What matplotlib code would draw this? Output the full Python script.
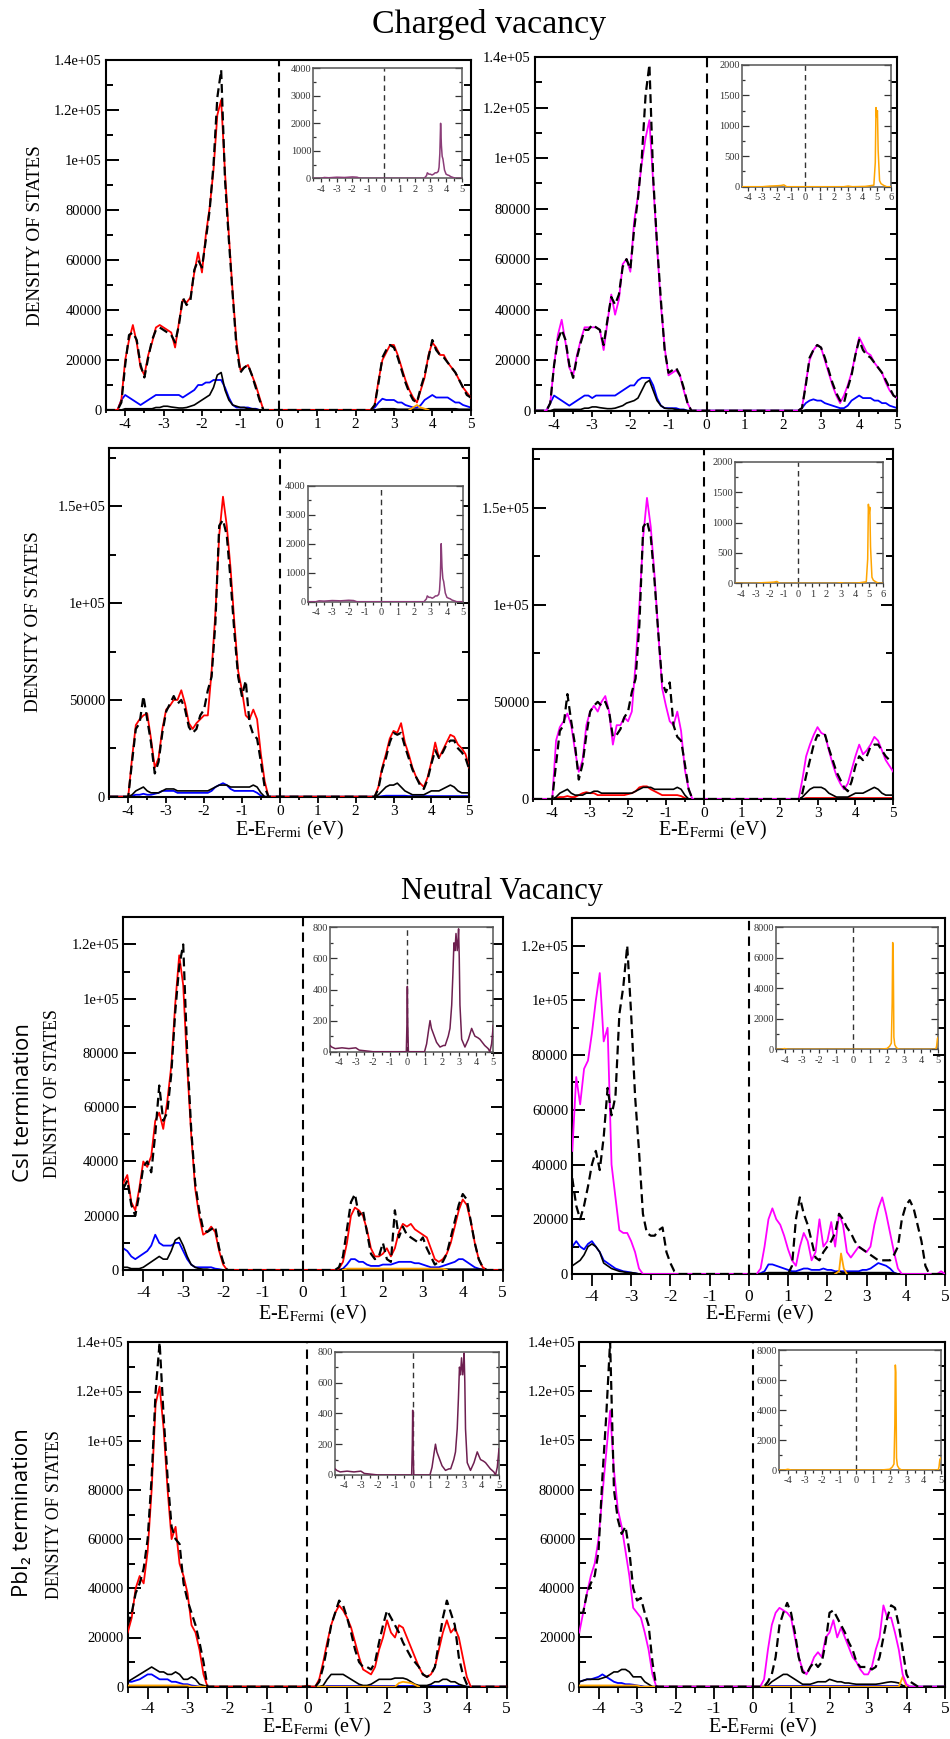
import numpy as np
import matplotlib
matplotlib.use("Agg")
import matplotlib.pyplot as plt
from matplotlib.ticker import MultipleLocator

plt.rcParams['font.family'] = ['Liberation Serif', 'DejaVu Serif']
plt.rcParams['mathtext.fontset'] = 'stix'
plt.rcParams['axes.unicode_minus'] = False

# ---------------- data (DOS in units of 1000 states) ----------------
E_GRID = [-4.5,-4.4,-4.3,-4.2,-4.1,-4.0,-3.9,-3.8,-3.7,-3.6,
          -3.5,-3.4,-3.3,-3.2,-3.1,-3.0,-2.9,-2.8,-2.7,-2.6,
          -2.5,-2.4,-2.3,-2.2,-2.1,-2.0,-1.9,-1.8,-1.7,-1.6,
          -1.5,-1.4,-1.3,-1.2,-1.1,-1.0,-0.9,-0.8,-0.7,-0.6,
          -0.5,-0.4,-0.3,-0.2,-0.1,0.0,0.1,0.2,0.3,0.4,
          0.5,0.6,0.7,0.8,0.9,1.0,1.1,1.2,1.3,1.4,
          1.5,1.6,1.7,1.8,1.9,2.0,2.1,2.2,2.3,2.4,
          2.5,2.6,2.7,2.8,2.9,3.0,3.1,3.2,3.3,3.4,
          3.5,3.6,3.7,3.8,3.9,4.0,4.1,4.2,4.3,4.4,
          4.5,4.6,4.7,4.8,4.9,5.0]

# Panel 1: charged vacancy, top-left (red)
P1_RED = [0,0,0,0,4,20,28,34,27,17, 14,22,27,33,34,33,32,31,25,35,
          44,43,45,55,63,55,70,81,96,118, 124,95,70,47,27,16,17,18,14,10,
          5,0,0,0,0,0,0,0,0,0, 0,0,0,0,0,0,0,0,0,0, 0,0,0,0,0,0,0,0,0,0,
          2,12,20,23,26,26,22,17,12,8, 5,3,8,13,22,27,25,22,22,19, 17,15,12,9,7,5]
P1_DASH = [0,0,0,0,3,18,30,31,28,18, 13,21,28,32,33,32,31,30,27,34,
           45,42,44,56,60,57,68,80,98,125, 136,92,68,46,25,15,17,18,14,9,
           4,0,0,0,0,0,0,0,0,0, 0,0,0,0,0,0,0,0,0,0, 0,0,0,0,0,0,0,0,0,0,
           2,11,21,24,26,25,21,16,11,7, 4,3,9,14,21,28,24,22,21,19, 17,15,12,9,6,5]
P1_BLUE = [0,0,0,0,4,6,5,4,3,2, 3,4,5,6,6,6,6,6,6,6,
           5,6,7,8,10,10,11,11,12,12, 12,9,5,2,1,1,1,1,0.5,0.5,
           0,0,0,0,0,0,0,0,0,0, 0,0,0,0,0,0,0,0,0,0, 0,0,0,0,0,0,0,0,0,0,
           1,3,4.5,4,4,4,3,3,2,1.5, 1,1,2,4,5,6,5,5,5,5, 4,3,3,2,1.5,1]
P1_BLACK = [0,0,0,0,0,0.5,0.5,0.5,0.5,0.5, 0.5,0.5,0.5,1,1,1.5,1.5,1.2,1,0.8,
            0.8,1,1.5,2,3,4,5,6,9,14, 15,8,4,2,1.5,1,1,0.5,0.5,0.3,
            0,0,0,0,0,0,0,0,0,0, 0,0,0,0,0,0,0,0,0,0, 0,0,0,0,0,0,0,0,0,0,
            0,0.3,0.5,0.5,0.5,0.5,0.3,0.3,0.3,0.3, 0.3,0.3,0.3,0.3,0.5,0.5,0.5,0.5,0.5,0.5,
            0.5,0.5,0.3,0.3,0.3,0.3]
P1_ORANGE_E = [3.4,3.5,3.6,3.7,3.8,3.9]
P1_ORANGE = [0,1,2,1,0.5,0]

# Panel 2: charged vacancy, top-right (magenta)
P2_MAG = [0,0,0,0,3,18,30,36,27,17, 14,22,28,33,33,33,33,32,24,35,
          46,38,44,58,60,55,75,85,98,108, 115,90,65,42,25,14,15,16,14,8,
          3,0,0,0,0,0,0,0,0,0, 0,0,0,0,0,0,0,0,0,0, 0,0,0,0,0,0,0,0,0,0,
          1,11,20,24,26,25,20,15,10,6, 3,6,10,15,22,29,26,23,22,19, 17,15,11,8,6,5]
P2_DASH = [0,0,0,0,3,18,28,32,28,18, 13,21,27,32,32,34,33,32,26,36,
           45,42,46,57,60,56,72,84,100,125, 137,92,66,44,24,15,16,17,14,9,
           3,0,0,0,0,0,0,0,0,0, 0,0,0,0,0,0,0,0,0,0, 0,0,0,0,0,0,0,0,0,0,
           1,10,21,24,26,25,21,16,11,7, 4,3,9,14,22,28,24,22,21,19, 17,15,12,9,6,5]
P2_BLUE = [0,0,0,0,3,6,5,4,3,2, 3,4,5,6,6,5,6,6,6,6,
           6,6,7,8,9,10,10,12,13,13, 13,10,5,2,1,1,1,1,0.5,0.5,
           0,0,0,0,0,0,0,0,0,0, 0,0,0,0,0,0,0,0,0,0, 0,0,0,0,0,0,0,0,0,0,
           1,3,4,4.5,4,4,3,2.5,2,1.5, 1,1,2,4,5,6,5,5,5,4, 4,3,3,2,1.5,1]
P2_BLACK = [0,0,0,0,0,0.5,0.5,0.5,0.5,0.5, 0.5,0.5,0.5,1,1,1.5,1.5,1.2,1,0.8,
            0.8,1,1.5,2,3,3.5,4,5,8,11, 12,8,4,2,1,0.8,0.8,0.5,0.3,0.3,
            0,0,0,0,0,0,0,0,0,0, 0,0,0,0,0,0,0,0,0,0, 0,0,0,0,0,0,0,0,0,0,
            0,0.3,0.3,0.3,0.3,0.3,0.3,0.3,0.3,0.3, 0.3,0.3,0.3,0.3,0.3,0.3,0.3,0.3,0.3,0.3,
            0.3,0.3,0.3,0.3,0.3,0.3]

# Panel 3: charged vacancy, second row left (red)
P3_RED = [0,0,0,0,0,0,20,37,40,42, 43,30,15,20,35,45,47,50,50,55,
          48,38,35,38,40,42,42,65,95,135, 155,140,118,90,65,55,42,40,45,40,
          22,8,0,0,0,0,0,0,0,0, 0,0,0,0,0,0,0,0,0,0, 0,0,0,0,0,0,0,0,0,0,
          0,5,15,22,30,34,33,38,28,22, 15,10,7,5,10,18,28,20,24,28, 32,31,27,25,22,15]
P3_DASH = [0,0,0,0,0,0,18,35,38,52, 40,28,12,18,33,44,48,52,48,50,
           45,36,33,35,42,45,55,62,90,140, 143,135,112,85,62,52,60,38,32,30,
           18,5,0,0,0,0,0,0,0,0, 0,0,0,0,0,0,0,0,0,0, 0,0,0,0,0,0,0,0,0,0,
           0,4,14,20,28,33,32,33,26,20, 14,10,6,4,9,17,24,20,23,27, 29,29,25,23,20,14]
P3_BLACK = [0,0,0,0,0,0,1,3,4,5, 3,2,2,2,3,4,4,4,3,3,
            3,3,3,3,3,3,3,4,5,6, 6,6,5,5,5,5,5,5,6,5,
            2,0,0,0,0,0,0,0,0,0, 0,0,0,0,0,0,0,0,0,0, 0,0,0,0,0,0,0,0,0,0,
            0,1,3,5,6,6,7,5,3,2, 1,1,1,1,2,3,3,3,4,5, 6,5,3,2,2,2]
P3_BLUE = [0,0,0,0,0,0,0.5,1,1,1.5, 1,1,1.5,2,3,3,3,3,2,2,
           2,2,2,2,2,2,2,3,5,6, 7,6,4,3,3,3,3,3,3,2,
           0.5,0,0,0,0,0,0,0,0,0, 0,0,0,0,0,0,0,0,0,0, 0,0,0,0,0,0,0,0,0,0,
           0,0,0.3,0.5,0.5,0.5,0.5,0.5,0.5,0.3, 0.3,0.3,0.3,0.3,0.3,0.3,0.3,0.3,0.3,0.3,
           0.3,0.3,0.3,0.3,0.3,0.3]

# Panel 4: charged vacancy, second row right (magenta)
P4_MAG = [0,0,0,0,0,0,30,37,40,44, 38,25,14,20,38,45,48,45,50,53,
          45,28,38,38,42,40,45,70,100,135, 155,140,115,85,57,48,40,38,45,35,
          15,5,0,0,0,0,0,0,0,0, 0,0,0,0,0,0,0,0,0,0, 0,0,0,0,0,0,0,0,0,0,
          0,10,22,28,33,37,34,33,25,18, 12,8,5,8,15,22,28,23,25,28, 32,30,25,20,17,14]
P4_DASH = [0,0,0,0,0,0,18,35,38,54, 40,28,10,18,33,45,48,50,48,50,
           45,32,33,36,42,45,55,62,90,140, 143,135,112,85,60,55,60,38,32,30,
           18,5,0,0,0,0,0,0,0,0, 0,0,0,0,0,0,0,0,0,0, 0,0,0,0,0,0,0,0,0,0,
           0,3,12,20,28,33,32,33,26,20, 14,10,6,4,9,17,22,20,22,27, 28,28,25,22,20,19]
P4_BLACK = [0,0,0,0,0,0,1,3,4,5, 3,2,2,2,3,3,4,4,3,3,
            3,3,3,3,3,3,3,4,5,6, 6,6,5,5,5,5,5,5,6,5,
            2,0,0,0,0,0,0,0,0,0, 0,0,0,0,0,0,0,0,0,0, 0,0,0,0,0,0,0,0,0,0,
            0,1,3,5,6,6,6,5,3,2, 1,1,1,1,2,3,3,3,4,5, 6,5,3,2,2,2]
P4_RED = [0,0,0,0,0,0,0.5,1,1,1.5, 1,1,2,3,3.5,3,3,2,2,2,
          2,2,2,2,2,2.5,3,4,6,6.5, 6.5,5,4,3,2,2,2,2,2,1.5,
          0.5,0,0,0,0,0,0,0,0,0, 0,0,0,0,0,0,0,0,0,0, 0,0,0,0,0,0,0,0,0,0,
          0,0,0.5,0.5,0.5,0.5,0.5,0.5,0.5,0.5, 0.5,0.5,0.5,0.5,0.5,0.5,0.5,0.5,0.5,0.5,
          0.5,0.5,0.5,0.5,0.5,0.5]

# Panel 5: neutral vacancy, CsI termination (red)
P5_RED = [32,35,25,22,30,40,38,42,55,58, 52,62,75,98,116,105,75,50,30,20,
          13,14,16,14,7,2,0,0,0,0, 0,0,0,0,0,0,0,0,0,0, 0,0,0,0,0,0,0,0,0,0,
          0,0,0,0,0.5,3,10,20,23,22, 20,15,8,5,5,6,8,5,8,14,
          17,16,17,15,14,13,12,8,4,3, 4,6,10,16,22,26,24,18,10,4, 1,0,0,0,0,0]
P5_DASH = [30,33,24,20,28,38,40,36,50,68, 55,58,72,95,112,120,80,52,32,22,
           15,14,15,16,8,3,0,0,0,0, 0,0,0,0,0,0,0,0,0,0, 0,0,0,0,0,0,0,0,0,0,
           0,0,0,0,1,5,15,25,28,20, 22,14,6,4,5,10,4,3,22,12,
           16,13,12,11,10,12,8,5,2,3, 3,6,12,18,24,28,26,18,10,4, 1,0,0,0,0,0]
P5_BLUE = [8,7,5,4,5,6,7,9,13,10, 9,9,9,10,10,7,4,2,1,1,
           1,1,1,0.5,0.3,0,0,0,0,0, 0,0,0,0,0,0,0,0,0,0, 0,0,0,0,0,0,0,0,0,0,
           0,0,0,0,0,0.5,2,4,4,3, 3,2,1.5,1.5,1.5,2,2,2,2.5,3,
           3,3,3,2.5,2.5,2,1.5,1,1,1, 1.5,2,2.5,3,4,4,3,2,1,0.5, 0,0,0,0,0,0]
P5_BLACK = [1,1,0.5,0.5,0.5,1,2,3,4,5, 4,4,7,11,12,9,5,2,1,0.5,
            0.3,0.3,0,0,0,0,0,0,0,0, 0,0,0,0,0,0,0,0,0,0, 0,0,0,0,0,0,0,0,0,0,
            0,0,0,0,0,0.3,0.3,0.3,0.3,0.3, 0.3,0.3,0.3,0.3,0.3,0.3,0.3,0.3,0.3,0.3,
            0.3,0.3,0.3,0.3,0.3,0.3,0.3,0.3,0.3,0.3, 0.3,0.3,0.3,0.3,0.3,0.3,0.3,0.3,0.3,0.3,
            0.3,0,0,0,0,0]
P5_ORANGE_E = [1.0,1.1,3.5,3.6]
P5_ORANGE = [0,0.5,0.5,0]

# Panel 6: neutral vacancy, CsI termination (magenta)
P6_MAG = [45,72,62,75,78,88,100,110,85,90, 40,28,16,15,15,12,8,2,0,0,
          0,0,0,0,0,0,0,0,0,0, 0,0,0,0,0,0,0,0,0,0, 0,0,0,0,0,0,0,0,2,10,
          20,24,20,18,14,9,5,3,10,15, 12,5,8,20,10,12,19,10,22,18,
          8,6,8,10,9,8,10,18,24,28, 22,15,8,2,0,0,0,0,0,0, 0,0,0,0,1,0]
P6_DASH = [35,25,20,25,32,40,45,38,50,68, 58,65,95,105,120,95,65,45,22,15,
           14,14,16,17,8,4,1,0,0,0, 0,0,0,0,0,0,0,0,0,0, 0,0,0,0,0,0,0,0,0,0,
           0,0,0,0,0,0,3,20,28,22, 18,12,6,5,8,10,12,15,22,20,
           17,15,12,10,9,8,7,6,5,5, 5,5,7,10,20,25,27,24,18,12, 3,0,0,0,0,0]
P6_BLUE = [10,12,10,9,11,12,10,8,5,4, 3,2,1.5,1,0.8,0.5,0.3,0,0,0,
           0,0,0,0,0,0,0,0,0,0, 0,0,0,0,0,0,0,0,0,0, 0,0,0,0,0,0,0,0,0.3,1,
           3.5,3.5,3,2.5,2,1.5,1,1,1.5,2, 2,1.5,1.5,1.5,2,1.5,1.5,1,1,1,
           1,1,1,1,1.5,1.5,2,3,4,3.5, 3,2,0.5,0,0,0,0,0,0,0, 0,0,0,0,0,0]
P6_BLACK = [3,4,5,7,10,11,10,8,4,3, 2,1.5,1,0.8,0.5,0.5,0.3,0,0,0,
            0,0,0,0,0,0,0,0,0,0, 0,0,0,0,0,0,0,0,0,0, 0,0,0,0,0,0,0,0,0,0.3,
            0.5,0.5,0.5,0.5,0.5,0.5,0.5,0.5,0.5,0.5, 0.5,0.5,0.5,0.5,0.5,0.5,0.5,0.5,1,0.5,
            0.5,0.5,0.5,0.5,0.5,0.5,0.5,0.5,0.5,0.5, 0.5,0.5,0.3,0,0,0,0,0,0,0, 0,0,0,0,0,0]
P6_ORANGE_E = [2.2,2.3,2.35,2.42,2.5]
P6_ORANGE = [0,1,7.5,2,0]

# Panel 7: neutral vacancy, PbI2 termination (red)
P7_RED = [22,28,40,45,42,55,80,115,122,105, 80,60,65,50,45,38,25,22,15,5,
          0,0,0,0,0,0,0,0,0,0, 0,0,0,0,0,0,0,0,0,0, 0,0,0,0,0,0.5,0,0,3,10,
          18,25,30,33,31,28,24,18,12,7, 6,5,8,15,20,27,22,20,25,24,
          20,16,12,8,5,4,5,8,15,22, 27,22,24,20,12,4,0,0,0,0, 0,0,0,0,0,0]
P7_DASH = [25,30,38,42,48,60,85,120,140,110, 85,65,60,58,42,35,30,25,18,10,
           0,0,0,0,0,0,0,0,0,0, 0,0,0,0,0,0,0,0,0,0, 0,0,0,0,0,0,0,0,2,8,
           16,25,30,35,33,28,22,15,10,8, 8,7,10,18,25,31,28,25,22,18,
           15,12,10,8,5,4,5,8,18,28, 35,30,25,12,5,1,0,0,0,0, 0,0,0,0,0,0]
P7_BLACK = [2,3,4,5,6,7,8,7,6,6, 5,5,6,5,3,3,4,3,1,0.5,
            0,0,0,0,0,0,0,0,0,0, 0,0,0,0,0,0,0,0,0,0, 0,0,0,0,0,0,0,0,0,0.5,
            3,5,5,5,5,4,3,2,1,0.5, 0.5,1,2,3,3,3,3,3.5,3.5,3.5,
            3,2,1,0.5,0.5,0.5,1,2,2,3, 3,2,2,1,0.5,0,0,0,0,0, 0,0,0,0,0,0]
P7_BLUE = [2,2,2.5,3,4,5,5,4,3,3, 3,2,2,1.5,1,1,0.5,0.3,0,0,
           0,0,0,0,0,0,0,0,0,0, 0,0,0,0,0,0,0,0,0,0, 0,0,0,0,0,0,0,0,0,0,
           0.3,0.3,0.3,0.3,0.3,0.3,0.3,0.3,0.3,0.3, 0.3,0.3,0.3,0.3,0.3,0.3,0.3,0.3,0.3,0.3,
           0.3,0.3,0.3,0.3,0.3,0.3,0.3,0.3,0.3,0.3, 0.3,0.3,0.3,0.3,0.3,0,0,0,0,0, 0,0,0,0,0,0]
P7_ORANGE_E = [-4.5,-3.0,-2.9,2.2,2.3,2.4,2.6,2.8]
P7_ORANGE = [0.5,0.5,0,0,1.5,2,1.5,0]

# Panel 8: neutral vacancy, PbI2 termination (magenta)
P8_MAG = [22,30,38,45,50,60,78,95,112,88, 72,65,55,45,32,30,28,22,15,5,
          0,0,0,0,0,0,0,0,0,0, 0,0,0,0,0,0,0,0,0,0, 0,0,0,0,0,0,0,0,3,15,
          25,30,32,31,30,28,20,12,7,5, 8,12,14,12,20,22,27,20,24,20,
          16,12,10,7,5,5,8,15,20,33, 28,28,22,15,5,1,0,0,0,0, 0,0,0,0,0,0]
P8_DASH = [30,30,38,42,45,55,85,110,140,80, 68,62,65,55,40,35,36,30,25,10,
           0,0,0,0,0,0,0,0,0,0, 0,0,0,0,0,0,0,0,0,0, 0,0,0,0,0,0,0,0,0,2,
           5,12,25,30,34,30,22,12,6,5, 8,10,8,10,18,30,31,28,25,22,
           18,15,10,8,8,8,7,8,12,20, 28,33,32,25,15,5,2,1,0,0, 0,0,0,0,0,0]
P8_BLACK = [2,2.5,3,3,3,3,3.5,4,5,6, 6,7,7,6,4,4,4,2,1,0,
            0,0,0,0,0,0,0,0,0,0, 0,0,0,0,0,0,0,0,0,0, 0,0,0,0,0,0,0,0,0,0.5,
            2,3,4,5,5,4,3,2,1,1, 1,1.5,2,2,2,3,2.5,2,2,1.5,
            1.5,1.2,1,1,1,1,1,1,1.2,1.5, 1.8,2,1.8,1.5,0.5,0,0,0,0,0, 0,0,0,0,0,0]
P8_BLUE = [2,2.5,3,3,3.5,4,5,4,3,2, 1.5,1.5,1,1,0.8,0.5,0.3,0,0,0,
           0,0,0,0,0,0,0,0,0,0, 0,0,0,0,0,0,0,0,0,0, 0,0,0,0,0,0,0,0,0,0,
           0.3,0.3,0.3,0.3,0.3,0.3,0.3,0.3,0.3,0.3, 0.3,0.3,0.3,0.3,0.3,0.3,0.3,0.3,0.3,0.3,
           0.3,0.3,0.3,0.3,0.3,0.3,0.3,0.3,0.3,0.3, 0.3,0.3,0.3,0.3,0,0,0,0,0,0, 0,0,0,0,0,0]
P8_ORANGE_E = [-4.5,-3.0,-2.9,3.8,3.9,4.0]
P8_ORANGE = [0.5,0.5,0,0,4,0]

# Insets (absolute DOS values)
INSET_A_E = [-4.5,-4.0,-3.8,-3.5,-3.0,-2.5,-2.0,-1.7,-1.5,
             2.6,2.75,2.8,2.9,3.0,3.1,3.2,3.3,3.4,
             3.5,3.55,3.6,3.65,3.7,3.75,3.8,3.85,3.9,
             4.0,4.1,4.2,4.3,4.4,4.5,4.6,5.0]
INSET_A_Y = [0,0,30,20,40,30,50,40,0,
             0,100,200,150,150,120,150,200,200,
             250,400,900,2000,1200,800,700,500,300,
             150,120,100,60,40,20,0,0]
INSET_B_E = [-4.45,-3.0,-2.5,-2.0,-1.7,-1.5,-1.3,2.7,3.0,3.3,
             4.2,4.5,4.8,4.9,4.95,5.0,5.05,5.1,5.2,5.3,5.5,5.7,6.0]
INSET_B_Y = [0,0,10,15,20,30,0,0,10,0,
             5,15,25,400,1300,1150,1250,600,100,50,20,0,0]
INSET_C_E = [-4.5,-4.4,-4.2,-3.8,-3.4,-3.0,-2.8,-2.4,-2.0,
             -0.06,-0.02,0.0,0.02,0.06,
             1.0,1.12,1.25,1.32,1.4,1.5,1.7,1.9,2.1,2.2,
             2.38,2.48,2.58,2.65,2.71,2.77,2.83,2.9,2.95,2.98,
             3.02,3.06,3.16,3.35,3.55,3.74,3.85,3.93,4.1,4.22,
             4.5,4.7,4.8,4.9,5.0]
INSET_C_Y = [40,30,20,25,20,25,10,5,0,
             0,200,420,200,0,
             0,50,150,200,150,120,60,30,40,40,
             100,150,300,500,700,650,760,650,720,790,
             600,300,80,30,80,150,120,100,90,80,
             40,20,0,50,170]
INSET_D_E = [-4.5,-4.2,-4.0,-3.8,1.5,2.0,2.15,2.25,2.3,2.33,2.36,2.4,2.45,2.55,2.7,3.5,4.85,4.9,4.95,5.0]
INSET_D_Y = [0,0,50,0,0,50,200,400,3000,7000,6500,800,300,100,0,0,0,200,700,800]

X_TICKS = [-4,-3,-2,-1,0,1,2,3,4,5]
X_TICKS_B = [-4,-3,-2,-1,0,1,2,3,4,5,6]
Y_TICKS_14 = [0,20000,40000,60000,80000,100000,120000,140000]
Y_LABELS_14 = ['0','20000','40000','60000','80000','1e+05','1.2e+05','1.4e+05']
Y_TICKS_12 = [0,20000,40000,60000,80000,100000,120000]
Y_LABELS_12 = ['0','20000','40000','60000','80000','1e+05','1.2e+05']
Y_TICKS_15 = [0,50000,100000,150000]
Y_LABELS_15 = ['0','50000','1e+05','1.5e+05']
INSET_A_YT = [0,1000,2000,3000,4000]
INSET_B_YT = [0,500,1000,1500,2000]
INSET_C_YT = [0,200,400,600,800]
INSET_D_YT = [0,2000,4000,6000,8000]

for arr in [P1_RED,P1_DASH,P1_BLUE,P1_BLACK,P2_MAG,P2_DASH,P2_BLUE,P2_BLACK,
            P3_RED,P3_DASH,P3_BLACK,P3_BLUE,P4_MAG,P4_DASH,P4_BLACK,P4_RED,
            P5_RED,P5_DASH,P5_BLUE,P5_BLACK,P6_MAG,P6_DASH,P6_BLUE,P6_BLACK,
            P7_RED,P7_DASH,P7_BLACK,P7_BLUE,P8_MAG,P8_DASH,P8_BLACK,P8_BLUE]:
    assert len(arr) == len(E_GRID), len(arr)

# ---------------- drawing ----------------
W, H = 950, 1739
fig = plt.figure(figsize=(W / 100, H / 100), dpi=100)

RED = '#ff0000'; MAG = '#ff00ff'; BLUE = '#0000ff'; ORANGE = '#ffa500'
PURPLE_A = '#8b3d78'; PURPLE_C = '#6e1f50'
DASH = (0, (4, 2.2))


def add_box(x0, y0, x1, y1):
    return fig.add_axes([x0 / W, 1 - y1 / H, (x1 - x0) / W, (y1 - y0) / H])


def kilo(v):
    return np.asarray(v, dtype=float) * 1000.0


def main_panel(box, ymax, yt, ytl, yminor, small, small_col, black, orange, main, main_col,
               dash, xts, big=False):
    ax = add_box(*box)
    ax.plot(E_GRID, kilo(small), color=small_col, lw=1.3, zorder=2)
    ax.plot(E_GRID, kilo(black), color='black', lw=1.2, zorder=2.5)
    if orange is not None:
        ax.plot(orange[0], kilo(orange[1]), color=ORANGE, lw=1.3, zorder=3)
    ax.plot(E_GRID, kilo(main), color=main_col, lw=1.3, zorder=3.5)
    ax.plot(E_GRID, kilo(dash), color='black', lw=1.6, ls=DASH, zorder=4)
    ax.axvline(0, color='black', lw=1.5, ls=(0, (4.5, 3)), zorder=5)
    ax.set_xlim(-4.5, 5)
    ax.set_ylim(0, ymax)
    ax.set_xticks(X_TICKS)
    ax.set_xticklabels([str(t) for t in X_TICKS])
    ax.xaxis.set_minor_locator(MultipleLocator(0.5))
    ax.set_yticks(yt)
    ax.set_yticklabels(ytl)
    ax.yaxis.set_minor_locator(MultipleLocator(yminor))
    ax.tick_params(axis='y', which='both', direction='in', left=True, right=True,
                   labelsize=10.5, pad=3, width=1.4)
    ax.tick_params(axis='y', which='major', length=9)
    ax.tick_params(axis='y', which='minor', length=5)
    xl = 8.5 if big else 4
    ax.tick_params(axis='x', which='both', direction='out', bottom=True, top=False,
                   labelsize=xts, pad=2, width=1.3)
    ax.tick_params(axis='x', which='major', length=xl)
    ax.tick_params(axis='x', which='minor', length=xl * 0.55)
    for s in ax.spines.values():
        s.set_linewidth(1.5)
    return ax


def inset(box, xmax, ymax, yt, ex, ey, color, xt):
    ax = add_box(*box)
    ax.plot(ex, ey, color=color, lw=1.1, zorder=3)
    ax.axvline(0, color='#333333', lw=1.0, ls=(0, (4, 3)), zorder=2)
    ax.set_xlim(-4.5 if xmax < 5.5 else -4.45, xmax)
    ax.set_ylim(0, ymax)
    ax.set_xticks(xt)
    ax.set_xticklabels([str(t) for t in xt])
    ax.xaxis.set_minor_locator(MultipleLocator(0.5))
    ax.set_yticks(yt)
    ax.set_yticklabels([str(t) for t in yt])
    ax.yaxis.set_minor_locator(MultipleLocator(yt[1] / 2))
    ax.tick_params(axis='both', which='both', labelsize=7.5, pad=1.5, width=0.9,
                   colors='#333333')
    ax.tick_params(axis='y', which='both', direction='in', left=True, right=True)
    ax.tick_params(axis='y', which='major', length=5)
    ax.tick_params(axis='y', which='minor', length=2.5)
    ax.tick_params(axis='x', which='both', direction='out', top=False)
    ax.tick_params(axis='x', which='major', length=3)
    ax.tick_params(axis='x', which='minor', length=2)
    for s in ax.spines.values():
        s.set_linewidth(1.1)
        s.set_color('#555555')
    return ax


# Row 1
main_panel((106, 60, 470.7, 410), 140000, Y_TICKS_14, Y_LABELS_14, 10000,
           P1_BLUE, BLUE, P1_BLACK, (P1_ORANGE_E, P1_ORANGE), P1_RED, RED, P1_DASH, 11)
main_panel((535, 57, 897.3, 410.7), 140000, Y_TICKS_14, Y_LABELS_14, 10000,
           P2_BLUE, BLUE, P2_BLACK, None, P2_MAG, MAG, P2_DASH, 11)
# Row 2
main_panel((109.3, 448.3, 469.3, 796.7), 180000, Y_TICKS_15, Y_LABELS_15, 25000,
           P3_BLUE, BLUE, P3_BLACK, None, P3_RED, RED, P3_DASH, 11)
main_panel((533.3, 449.3, 893.3, 799), 180000, Y_TICKS_15, Y_LABELS_15, 25000,
           P4_RED, RED, P4_BLACK, None, P4_MAG, MAG, P4_DASH, 11)
# Row 3
main_panel((123.3, 917.3, 502.7, 1270), 130000, Y_TICKS_12, Y_LABELS_12, 10000,
           P5_BLUE, BLUE, P5_BLACK, (P5_ORANGE_E, P5_ORANGE), P5_RED, RED, P5_DASH, 12.5, big=True)
main_panel((572.3, 918.3, 945, 1274), 130000, Y_TICKS_12, Y_LABELS_12, 10000,
           P6_BLUE, BLUE, P6_BLACK, (P6_ORANGE_E, P6_ORANGE), P6_MAG, MAG, P6_DASH, 12.5, big=True)
# Row 4
main_panel((127.7, 1342.3, 506.7, 1686.7), 140000, Y_TICKS_14, Y_LABELS_14, 10000,
           P7_BLUE, BLUE, P7_BLACK, (P7_ORANGE_E, P7_ORANGE), P7_RED, RED, P7_DASH, 12.5, big=True)
main_panel((579.3, 1341.7, 945, 1686.7), 140000, Y_TICKS_14, Y_LABELS_14, 10000,
           P8_BLUE, BLUE, P8_BLACK, (P8_ORANGE_E, P8_ORANGE), P8_MAG, MAG, P8_DASH, 12.5, big=True)

# Insets
inset((313.3, 68.3, 461.7, 178.3), 5, 4000, INSET_A_YT, INSET_A_E, INSET_A_Y, PURPLE_A, X_TICKS)
inset((741.7, 65, 891, 186.7), 6, 2000, INSET_B_YT, INSET_B_E, INSET_B_Y, ORANGE, X_TICKS_B)
inset((307.7, 485.7, 463.3, 601.7), 5, 4000, INSET_A_YT, INSET_A_E, INSET_A_Y, PURPLE_A, X_TICKS)
inset((735, 461.7, 883.3, 583.3), 6, 2000, INSET_B_YT, INSET_B_E, INSET_B_Y, ORANGE, X_TICKS_B)
inset((330, 927.3, 493.3, 1051.7), 5, 800, INSET_C_YT, INSET_C_E, INSET_C_Y, PURPLE_C, X_TICKS)
inset((776, 927.3, 938.3, 1049.3), 5, 8000, INSET_D_YT, INSET_D_E, INSET_D_Y, ORANGE, X_TICKS)
inset((335, 1351.7, 499, 1475), 5, 800, INSET_C_YT, INSET_C_E, INSET_C_Y, PURPLE_C, X_TICKS)
inset((779.3, 1350, 940.7, 1470), 5, 8000, INSET_D_YT, INSET_D_E, INSET_D_Y, ORANGE, X_TICKS)


def ftext(x, y, s, **kw):
    fig.text(x / W, 1 - y / H, s, **kw)


# Titles
ftext(489, 25, 'Charged vacancy', ha='center', va='center', fontsize=24.5)
ftext(502, 892, 'Neutral Vacancy', ha='center', va='center', fontsize=22)

# y labels
ftext(36, 236, 'DENSITY OF STATES', ha='center', va='center', rotation=90, fontsize=13.8)
ftext(34, 622, 'DENSITY OF STATES', ha='center', va='center', rotation=90, fontsize=13.8)
ftext(53, 1094, 'DENSITY OF STATES', ha='center', va='center', rotation=90, fontsize=12.8)
ftext(55, 1515, 'DENSITY OF STATES', ha='center', va='center', rotation=90, fontsize=12.8)
ftext(24, 1103, 'CsI termination', ha='center', va='center', rotation=90, fontsize=16,
      family=['Open Sans', 'DejaVu Sans'])
ftext(23, 1513, 'PbI\u2082 termination', ha='center', va='center', rotation=90, fontsize=16,
      family=['Open Sans', 'DejaVu Sans'])

# x labels
XLAB = r'E-E$_{\mathrm{Fermi}}$ (eV)'
ftext(290, 830, XLAB, ha='center', va='center', fontsize=14.5)
ftext(713, 830, XLAB, ha='center', va='center', fontsize=14.5)
ftext(313, 1314, XLAB, ha='center', va='center', fontsize=14.5)
ftext(760, 1314, XLAB, ha='center', va='center', fontsize=14.5)
ftext(317, 1727, XLAB, ha='center', va='center', fontsize=14.5)
ftext(763, 1727, XLAB, ha='center', va='center', fontsize=14.5)

fig.savefig('out.png', dpi=100)
